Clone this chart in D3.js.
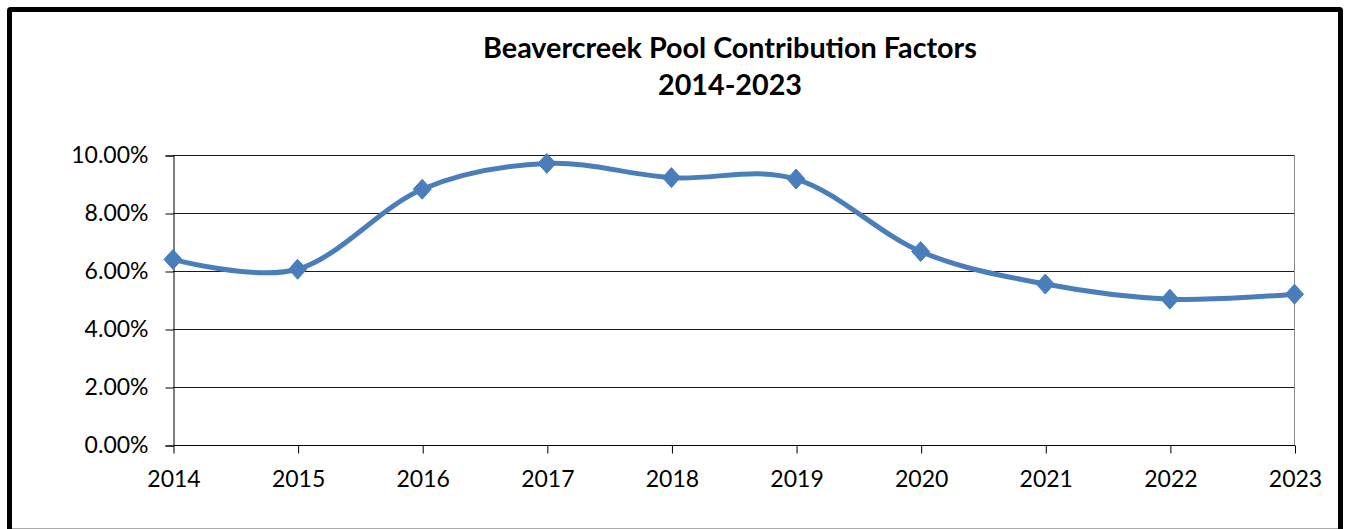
<!DOCTYPE html>
<html>
<head>
<meta charset="utf-8">
<script src="https://cdn.jsdelivr.net/npm/d3@7"></script>
<style>
  html, body { margin: 0; padding: 0; background: #fff; }
  svg { display: block; }
  text { font-family: Lato, "Open Sans", sans-serif; fill: #000; }
</style>
</head>
<body>
<svg id="chart" width="1347" height="529"></svg>
<script>
const years = ["2014","2015","2016","2017","2018","2019","2020","2021","2022","2023"];
const factors = [0.0640, 0.0606, 0.0882, 0.0971, 0.0922, 0.0917, 0.0667, 0.0555, 0.0503, 0.0520];
const yTicks = [0, 0.02, 0.04, 0.06, 0.08, 0.10];
const titleLines = ["Beavercreek Pool Contribution Factors", "2014-2023"];

const svg = d3.select("#chart");
const plot = { left: 173, right: 1294.5, top: 155, bottom: 445 };

// outer frame
svg.append("rect")
  .attr("x", 9.5).attr("y", 9.5)
  .attr("width", 1331).attr("height", 530)
  .attr("fill", "#fff").attr("stroke", "#000").attr("stroke-width", 5)
  .attr("rx", 1);
svg.append("line")
  .attr("x1", 12).attr("x2", 1338).attr("y1", 528.5).attr("y2", 528.5)
  .attr("stroke", "#aaa").attr("stroke-width", 1);

const x = d3.scalePoint().domain(years).range([plot.left, plot.right]);
const y = d3.scaleLinear().domain([0, 0.10]).range([plot.bottom, plot.top]);

// gridlines
svg.append("g")
  .selectAll("line")
  .data(yTicks.filter(d => d > 0))
  .join("line")
  .attr("x1", plot.left).attr("x2", plot.right)
  .attr("y1", d => Math.round(y(d)) + 0.5).attr("y2", d => Math.round(y(d)) + 0.5)
  .attr("stroke", "#1a1a1a").attr("stroke-width", 1);

// right plot border
svg.append("line")
  .attr("x1", plot.right).attr("x2", plot.right)
  .attr("y1", plot.top).attr("y2", plot.bottom)
  .attr("stroke", "#888").attr("stroke-width", 1);

// y axis
const yAxis = d3.axisLeft(y).tickValues(yTicks).tickFormat(d3.format(".2%")).tickSize(8).tickPadding(17);
const gy = svg.append("g").attr("transform", `translate(${plot.left + 0.5},0.5)`).call(yAxis);
gy.select(".domain").attr("stroke", "#000");
gy.selectAll(".tick line").attr("stroke", "#000");
gy.selectAll(".tick text").attr("font-size", 23).attr("font-family", "Lato, sans-serif").attr("fill", "#000");

// x axis
const xAxis = d3.axisBottom(x).tickSize(8).tickPadding(17);
const gx = svg.append("g").attr("transform", `translate(0.5,${plot.bottom + 0.5})`).call(xAxis);
gx.select(".domain").attr("stroke", "#000").attr("d", `M${plot.left},0H${plot.right}`);
gx.selectAll(".tick line").attr("stroke", "#000");
gx.selectAll(".tick text").attr("font-size", 23).attr("font-family", "Lato, sans-serif").attr("fill", "#000");

// line
const line = d3.line()
  .x((d, i) => x(years[i]))
  .y(d => y(d))
  .curve(d3.curveCardinal.tension(0));
svg.append("path")
  .datum(factors)
  .attr("d", line)
  .attr("fill", "none")
  .attr("stroke", "#4A7EBB")
  .attr("stroke-width", 5)
  .attr("stroke-linejoin", "round")
  .attr("stroke-linecap", "round");

// diamond markers
svg.append("g")
  .selectAll("path")
  .data(factors)
  .join("path")
  .attr("transform", (d, i) => `translate(${x(years[i])},${y(d)})`)
  .attr("d", "M0,-10L9,0L0,10L-9,0Z")
  .attr("fill", "#4A7EBB")
  .attr("stroke", "#4A7EBB")
  .attr("stroke-width", 1);

// title
const cx = 730;
const t1 = svg.append("text").attr("x", cx).attr("y", 58).attr("text-anchor", "middle")
  .attr("font-weight", "bold").attr("font-size", 28).text(titleLines[0]);
const w1 = t1.node().getComputedTextLength();
const fs = 28 * 494 / w1;
t1.attr("font-size", fs);
svg.append("text").attr("x", cx).attr("y", 95).attr("text-anchor", "middle")
  .attr("font-weight", "bold").attr("font-size", fs).text(titleLines[1]);
</script>
</body>
</html>
